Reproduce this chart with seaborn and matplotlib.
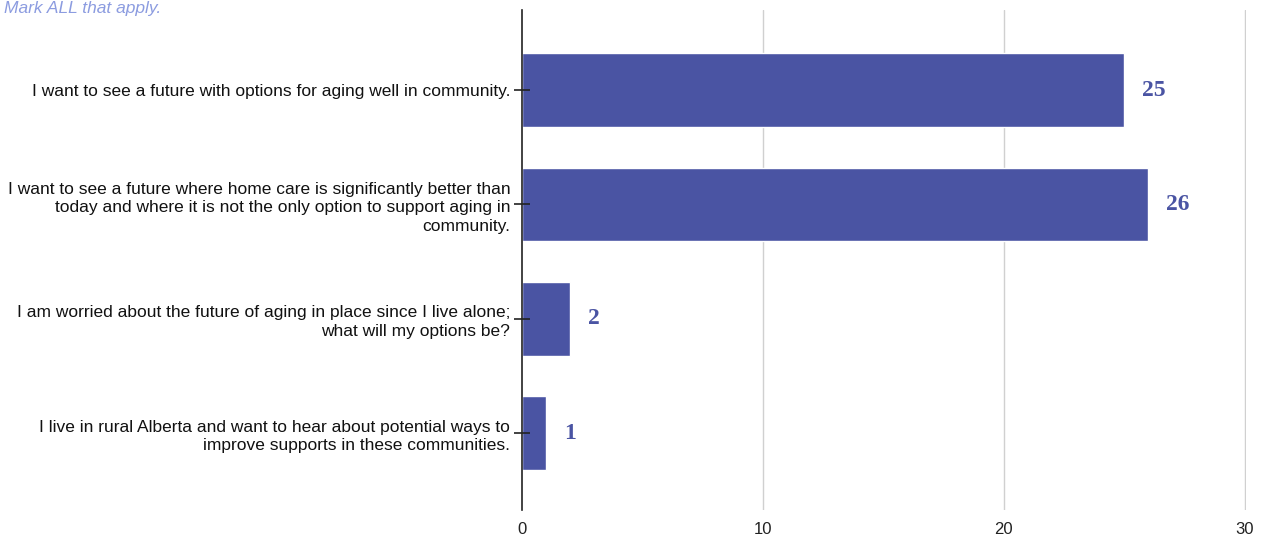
import seaborn as sns
import matplotlib.pyplot as plt
import pandas as pd

categories = [
    "I want to see a future with options for aging well in community.",
    "I want to see a future where home care is significantly better than\ntoday and where it is not the only option to support aging in\ncommunity.",
    "I am worried about the future of aging in place since I live alone;\nwhat will my options be?",
    "I live in rural Alberta and want to hear about potential ways to\nimprove supports in these communities.",
]
counts = [25, 26, 2, 1]
x_ticks = [0, 10, 20, 30]

df = pd.DataFrame({"option": categories, "count": counts})

sns.set_style("white")
plt.rcParams['font.family'] = ['Liberation Sans', 'DejaVu Sans']

fig = plt.figure(figsize=(12.7, 5.43), dpi=100)
ax = fig.add_axes([0.411, 0.0608, 0.570, 0.9208])

# gridlines behind the bars, ticks drawn above them
for t in x_ticks[1:]:
    ax.axvline(t, color="#d0d0d0", linewidth=1, zorder=0)

bar_color = "#4a54a3"
sns.barplot(data=df, y="option", x="count", orient="h", color=bar_color,
            width=0.645, saturation=1, ax=ax)

ax.set_xlim(0, 30.05)
ax.set_ylim(3.67, -0.7)
ax.set_xticks(x_ticks)
ax.set_xticklabels([str(t) for t in x_ticks])
ax.grid(False)
ax.set_axisbelow(False)
for s in ["top", "right", "bottom"]:
    ax.spines[s].set_visible(False)
ax.spines["left"].set_color("#222222")
ax.spines["left"].set_linewidth(1.2)
ax.spines["left"].set_zorder(5)

ax.tick_params(axis="y", left=True, direction="inout", length=11, width=1.2,
               color="#222222", labelsize=12.5, pad=3, labelcolor="#111111")
ax.tick_params(axis="x", length=0, labelsize=12, pad=9, labelcolor="#222222")
for lbl in ax.get_yticklabels():
    lbl.set_horizontalalignment("right")
    lbl.set_multialignment("right")
    lbl.set_linespacing(1.3)

ax.set_xlabel("")
ax.set_ylabel("")

for i, v in enumerate(counts):
    ax.annotate(str(v), xy=(v, i), xytext=(18, 0), textcoords="offset pixels",
                ha="left", va="center", color=bar_color, fontsize=17,
                fontweight="bold", family=["Liberation Serif", "DejaVu Serif"])

fig.text(0.003, 0.999, "Mark ALL that apply.", color="#8c9ce0", fontsize=12.5,
         style="italic", ha="left", va="top")

fig.savefig("out.png", dpi=100)
